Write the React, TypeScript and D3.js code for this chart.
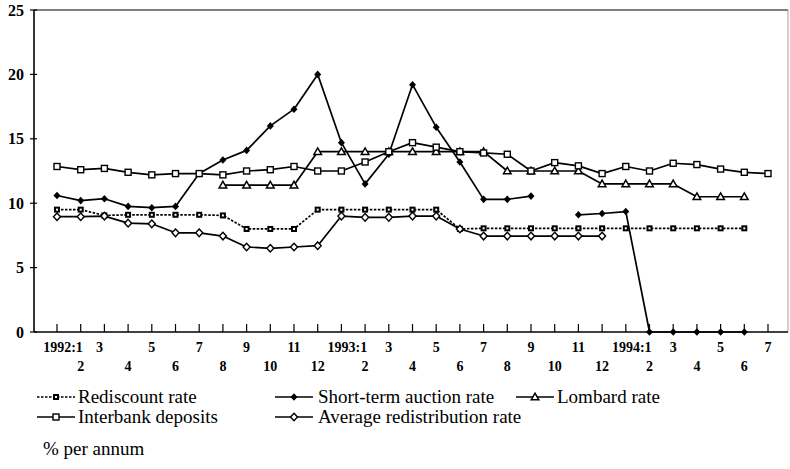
import React from "react";
import * as d3 from "d3";

const months: string[] = [
  "1992:1", "2", "3", "4", "5", "6", "7", "8", "9", "10", "11", "12",
  "1993:1", "2", "3", "4", "5", "6", "7", "8", "9", "10", "11", "12",
  "1994:1", "2", "3", "4", "5", "6", "7",
];

const yTicks: number[] = [0, 5, 10, 15, 20, 25];

const rediscount: (number | null)[] = [
  9.5, 9.5, 9.05, 9.1, 9.1, 9.1, 9.1, 9.05, 8.0, 8.0, 8.0, 9.5,
  9.5, 9.5, 9.5, 9.5, 9.5, 8.0, 8.05, 8.05, 8.05, 8.05, 8.05, 8.05,
  8.05, 8.05, 8.05, 8.05, 8.05, 8.05, null,
];

const shortTerm: (number | null)[] = [
  10.6, 10.2, 10.35, 9.75, 9.65, 9.75, 12.3, 13.35, 14.1, 16.0, 17.3, 20.0,
  14.7, 11.5, 13.8, 19.2, 15.9, 13.2, 10.3, 10.3, 10.55, null, 9.1, 9.2,
  9.35, 0, 0, 0, 0, 0, null,
];

const lombard: (number | null)[] = [
  null, null, null, null, null, null, null, 11.4, 11.4, 11.4, 11.4, 14.0,
  14.0, 14.0, 14.0, 14.0, 14.0, 14.0, 14.0, 12.5, 12.5, 12.5, 12.5, 11.5,
  11.5, 11.5, 11.5, 10.5, 10.5, 10.5, null,
];

const interbank: (number | null)[] = [
  12.85, 12.6, 12.7, 12.4, 12.2, 12.3, 12.3, 12.2, 12.5, 12.6, 12.85, 12.5,
  12.5, 13.2, 14.0, 14.7, 14.35, 14.0, 13.9, 13.8, 12.5, 13.15, 12.9, 12.3,
  12.85, 12.5, 13.1, 13.0, 12.65, 12.4, 12.3,
];

const avgRedistribution: (number | null)[] = [
  8.95, 8.95, 9.0, 8.45, 8.4, 7.7, 7.7, 7.45, 6.6, 6.5, 6.6, 6.7,
  9.0, 8.9, 8.9, 9.0, 9.0, 8.0, 7.45, 7.45, 7.45, 7.45, 7.45, 7.45,
  null, null, null, null, null, null, null,
];

type Marker = "fsquare" | "diamond" | "triangle" | "osquare" | "odiamond";

const seriesNames = [
  "Rediscount rate",
  "Short-term auction rate",
  "Lombard rate",
  "Interbank deposits",
  "Average redistribution rate",
];
const seriesData = [rediscount, shortTerm, lombard, interbank, avgRedistribution];
const seriesMarkers: Marker[] = ["fsquare", "diamond", "triangle", "osquare", "odiamond"];
const seriesDash = ["2.5,1.5", "", "", "", ""];

const FONT = "'Liberation Serif', 'Times New Roman', serif";

function MarkerShape({ type, x, y }: { type: Marker; x: number; y: number }) {
  const s = 3;
  switch (type) {
    case "fsquare":
      return (
        <g>
          <rect x={x - s} y={y - s} width={2 * s} height={2 * s} fill="#000" />
          <rect x={x - 1} y={y - 1} width={2} height={2} fill="#fff" />
        </g>
      );
    case "osquare":
      return <rect x={x - s} y={y - s} width={2 * s} height={2 * s} fill="#fff" stroke="#000" strokeWidth={1.4} />;
    case "diamond":
      return <path d={`M${x},${y - 3.8}L${x + 3.5},${y}L${x},${y + 3.8}L${x - 3.5},${y}Z`} fill="#000" />;
    case "odiamond":
      return (
        <path d={`M${x},${y - 3.8}L${x + 3.5},${y}L${x},${y + 3.8}L${x - 3.5},${y}Z`} fill="#fff" stroke="#000" strokeWidth={1.4} />
      );
    case "triangle":
      return (
        <path d={`M${x},${y - 3.8}L${x + 3.8},${y + 2.8}L${x - 3.8},${y + 2.8}Z`} fill="#fff" stroke="#000" strokeWidth={1.5} />
      );
  }
  return null;
}

export default function App() {
  const W = 790;
  const H = 469;
  const left = 34;
  const right = 788;
  const top = 10;
  const bottom = 332;

  const x = d3.scalePoint<string>().domain(months.map((m, i) => String(i))).range([57, 768]).padding(0);
  const y = d3.scaleLinear().domain([0, 25]).range([bottom, top]);
  const xi = (i: number) => x(String(i)) as number;

  const line = d3
    .line<number | null>()
    .defined((d) => d !== null)
    .x((_, i) => xi(i))
    .y((d) => y(d as number));

  const labelOffset = (i: number) => {
    if (months[i].includes(":")) return 6;
    if (i === 2) return -5;
    return 0;
  };

  const legendPos = [
    { lx: 37, tx: 78, ty: 403 },
    { lx: 275, tx: 318, ty: 403 },
    { lx: 516, tx: 557, ty: 403 },
    { lx: 37, tx: 78, ty: 423 },
    { lx: 275, tx: 318, ty: 423 },
  ];

  return (
    <svg
      width={W}
      height={H}
      viewBox={`0 0 ${W} ${H}`}
      style={{ position: "absolute", left: 0, top: 0, background: "#fff" }}
    >
      <rect x={0} y={0} width={W} height={H} fill="#fff" />
      {/* frame */}
      <line x1={left} y1={top} x2={right} y2={top} stroke="#000" strokeWidth={1.2} />
      <line x1={right} y1={top} x2={right} y2={bottom} stroke="#888" strokeWidth={0.8} />
      <line x1={left} y1={top} x2={left} y2={bottom} stroke="#000" strokeWidth={1.6} />
      <line x1={left} y1={bottom} x2={right} y2={bottom} stroke="#000" strokeWidth={1.6} />

      {/* y axis */}
      {yTicks.map((t) => (
        <g key={t}>
          <line x1={left - 4} x2={left + 3} y1={y(t)} y2={y(t)} stroke="#000" strokeWidth={1.2} />
          <text
            x={24}
            y={y(t)}
            dy="0.35em"
            textAnchor="end"
            fontFamily={FONT}
            fontWeight="bold"
            fontSize={16}
          >
            {t}
          </text>
        </g>
      ))}

      {/* x axis */}
      {months.map((m, i) => (
        <g key={i}>
          <line x1={xi(i)} x2={xi(i)} y1={bottom} y2={bottom - 8} stroke="#000" strokeWidth={1.2} />
          <text
            x={xi(i) + labelOffset(i)}
            y={i % 2 === 0 ? 352 : 371}
            textAnchor="middle"
            fontFamily={FONT}
            fontWeight="bold"
            fontSize={14}
          >
            {m}
          </text>
        </g>
      ))}

      {/* series */}
      {seriesData.map((data, si) => (
        <g key={si}>
          <path
            d={line(data) || ""}
            fill="none"
            stroke="#000"
            strokeWidth={1.7}
            strokeDasharray={seriesDash[si] || undefined}
            strokeLinejoin="round"
          />
          {data.map((v, i) =>
            v === null ? null : <MarkerShape key={i} type={seriesMarkers[si]} x={xi(i)} y={y(v)} />
          )}
        </g>
      ))}

      {/* legend */}
      {seriesNames.map((name, si) => {
        const p = legendPos[si];
        const ly = p.ty - 6;
        return (
          <g key={name}>
            <line
              x1={p.lx}
              x2={p.lx + 38}
              y1={ly}
              y2={ly}
              stroke="#000"
              strokeWidth={1.5}
              strokeDasharray={seriesDash[si] || undefined}
            />
            <MarkerShape type={seriesMarkers[si]} x={p.lx + 19} y={ly} />
            <text x={p.tx} y={p.ty} fontFamily={FONT} fontSize={19}>
              {name}
            </text>
          </g>
        );
      })}

      <text x={43} y={455} fontFamily={FONT} fontSize={19}>
        % per annum
      </text>
    </svg>
  );
}
